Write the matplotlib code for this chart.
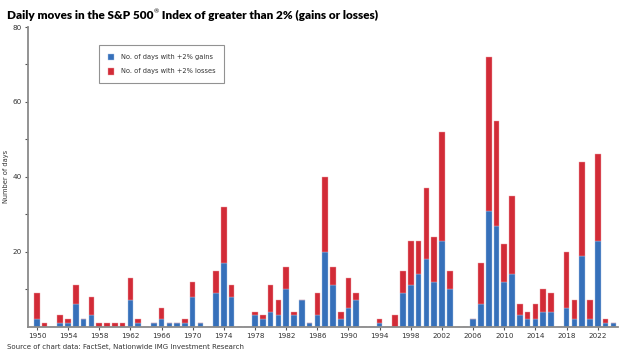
import numpy as np
import matplotlib.pyplot as plt

# Days per year with S&P 500 moves above 2%
years = np.arange(1950, 2025)
gains = [2, 0, 0, 1, 1, 6, 2, 3, 0, 0,
         0, 0, 7, 1, 0, 1, 2, 1, 1, 1,
         8, 1, 0, 9, 17, 8, 0, 0, 3, 2,
         4, 3, 10, 3, 7, 1, 3, 20, 11, 2,
         5, 7, 0, 0, 1, 0, 0, 9, 11, 14,
         18, 12, 23, 10, 0, 0, 2, 6, 31, 27,
         12, 14, 3, 2, 2, 4, 4, 0, 5, 2,
         19, 2, 23, 1, 1]
losses = [7, 1, 0, 2, 1, 5, 0, 5, 1, 1,
          1, 1, 6, 1, 0, 0, 3, 0, 0, 1,
          4, 0, 0, 6, 15, 3, 0, 0, 1, 1,
          7, 4, 6, 1, 0, 0, 6, 20, 5, 2,
          8, 2, 0, 0, 1, 0, 3, 6, 12, 9,
          19, 12, 29, 5, 0, 0, 0, 11, 41, 28,
          10, 21, 3, 2, 4, 6, 5, 0, 15, 5,
          25, 5, 23, 1, 0]
tick_years = list(range(1950, 2023, 4))

blue = "#3670ba"
red = "#d22b37"
axis_grey = "#8a8a8a"

fig = plt.figure(figsize=(6.24, 3.54), dpi=100)
ax = fig.add_axes([0.0454, 0.0771, 0.945, 0.8466])

gains = np.array(gains)
losses = np.array(losses)
ax.bar(years, gains, width=0.72, color=blue, edgecolor="#a9c4e6", linewidth=0.3,
       label="No. of days with +2% gains")
ax.bar(years, losses, width=0.72, bottom=gains, color=red, edgecolor="#eea0a6",
       linewidth=0.3, label="No. of days with +2% losses")

ax.set_xlim(1948.9, 2024.6)
ax.set_ylim(0, 80)

for s in ["top", "right"]:
    ax.spines[s].set_visible(False)
for s in ["left", "bottom"]:
    ax.spines[s].set_color(axis_grey)
    ax.spines[s].set_linewidth(1.3)

ax.set_xticks(tick_years)
ax.set_xticklabels([str(y) for y in tick_years])
ax.set_yticks([20, 40, 60, 80])
ax.set_yticks([10, 30, 50, 70], minor=True)
ax.tick_params(axis="both", which="both", length=2.5, width=0.8, color="#555555",
               labelsize=5.2, labelcolor="#333333", pad=2)

ax.set_ylabel("Number of days", fontsize=4.8, color="#333333", labelpad=3)

leg = ax.legend(loc="upper left", bbox_to_anchor=(0.12, 0.94), fontsize=4.8,
                frameon=True, fancybox=False, edgecolor="#777777",
                handlelength=1.0, handleheight=1.2, handletextpad=1.0,
                labelspacing=1.1, borderpad=1.3, borderaxespad=0)
leg.get_frame().set_linewidth(0.8)
for t in leg.get_texts():
    t.set_color("#333333")

# title in three pieces so the registered mark can be a small superscript
title_kw = dict(fontsize=8.5, fontweight="heavy", family="Lato", va="baseline")
t1 = fig.text(0.011, 0.946, "Daily moves in the S&P 500", **title_kw)
fig.canvas.draw()
x1 = fig.transFigure.inverted().transform(t1.get_window_extent().p1)[0]
reg = fig.text(x1 + 0.001, 0.962, "\u00ae", fontsize=4.5, family="Lato", va="baseline")
fig.canvas.draw()
x2 = fig.transFigure.inverted().transform(reg.get_window_extent().p1)[0]
fig.text(x2, 0.946, " Index of greater than 2% (gains or losses)", **title_kw)

fig.text(0.011, 0.02, "Source of chart data: FactSet, Nationwide IMG Investment Research",
         fontsize=5, color="#333333", ha="left", va="center")

fig.savefig("out.png", dpi=100)
